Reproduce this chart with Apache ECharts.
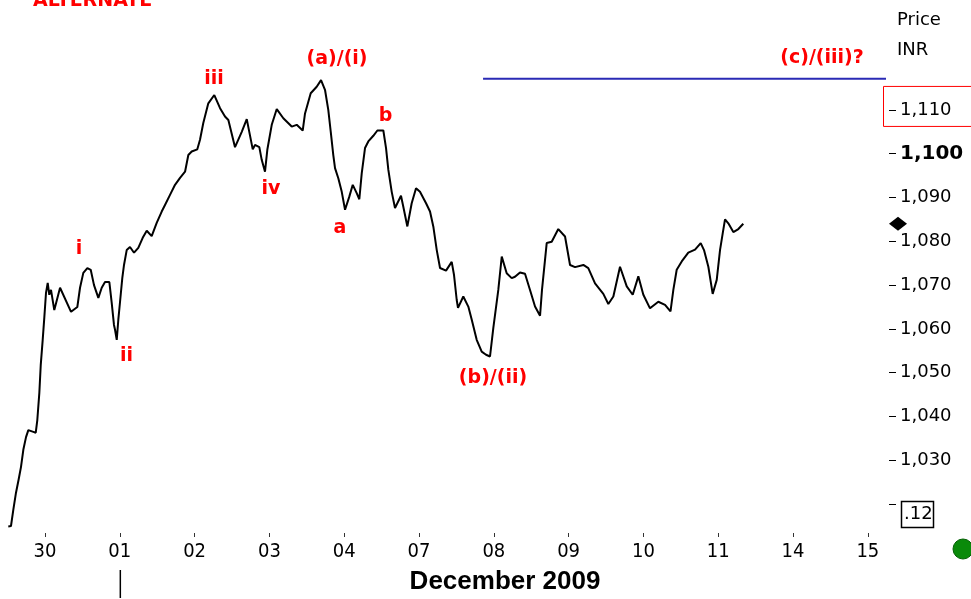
<!DOCTYPE html>
<html>
<head>
<meta charset="utf-8">
<script src="https://cdn.jsdelivr.net/npm/echarts@6/dist/echarts.min.js"></script>
<style>
html,body{margin:0;padding:0;background:#fff;}
#chart{width:971px;height:599px;}
</style>
</head>
<body>
<div id="chart"></div>
<script>
// Day tick labels (trading days, index 0..11)
const tickLabels = ['30','01','02','03','04','07','08','09','10','11','14','15'];
const monthTitle = 'December 2009';

// Intraday price path: time in trading-day units, price in INR
const times = [
 -0.491,-0.455,-0.424,-0.388,-0.354,-0.321,-0.290,-0.254,-0.223,-0.156,-0.124,-0.103,-0.076,-0.057,-0.031,-0.009,
 0.013,0.036,0.057,0.080,0.124,0.201,0.348,0.432,0.468,0.512,0.566,0.611,0.655,0.713,0.758,0.802,0.860,0.892,0.922,0.936,0.959,0.980,
 1.003,1.033,1.056,1.092,1.136,1.190,1.247,1.306,1.360,1.426,1.493,1.560,1.604,1.671,1.738,1.805,1.872,1.916,1.961,
 2.036,2.072,2.116,2.183,2.263,2.340,2.406,2.451,2.540,2.630,2.697,2.777,2.807,2.865,2.897,2.941,2.972,
 3.031,3.098,3.186,3.298,3.365,3.445,3.476,3.552,3.632,3.690,3.743,3.787,3.820,3.854,3.877,3.921,3.967,
 4.011,4.068,4.114,4.167,4.202,4.234,4.278,4.322,4.389,4.443,4.523,4.559,4.590,4.635,4.679,4.759,4.790,4.844,4.902,4.960,
 5.013,5.094,5.147,5.191,5.237,5.281,5.361,5.437,5.468,5.504,5.521,5.592,5.659,5.705,5.771,5.838,5.896,5.949,5.993,
 6.060,6.106,6.172,6.239,6.283,6.350,6.417,6.484,6.551,6.618,6.644,6.707,6.774,6.862,6.952,
 7.019,7.086,7.197,7.263,7.353,7.464,7.531,7.598,7.687,7.777,7.857,7.932,7.999,
 8.088,8.199,8.289,8.362,8.400,8.445,8.512,8.600,8.690,8.766,8.810,8.868,8.926,8.980,
 9.024,9.060,9.091,9.135,9.202,9.269,9.335
];
const prices = [
 1014.9,1015.0,1018.7,1022.6,1025.5,1028.5,1032.4,1035.3,1036.9,1036.5,1036.3,1039.2,1045.4,1051.8,1057.5,1062.7,
 1068.2,1070.5,1067.8,1068.9,1064.3,1069.4,1063.9,1065.0,1069.4,1072.8,1073.9,1073.5,1070.0,1067.1,1069.4,1070.7,1070.7,1065.9,1060.9,1059.8,1057.5,1062.1,
 1066.2,1071.6,1074.6,1078.0,1078.7,1077.4,1078.5,1080.8,1082.4,1081.2,1084.2,1086.8,1088.3,1090.6,1092.9,1094.5,1095.9,1099.7,1100.5,
 1101.0,1103.2,1107.0,1111.5,1113.4,1110.4,1108.5,1107.7,1101.5,1105.0,1107.9,1101.0,1102.0,1101.5,1098.6,1095.9,1100.9,
 1106.6,1110.2,1108.1,1106.2,1106.6,1105.3,1109.2,1113.8,1115.3,1116.8,1114.6,1110.0,1105.0,1099.7,1096.7,1094.4,1091.3,
 1087.2,1090.2,1092.9,1091.0,1089.6,1095.5,1101.3,1102.8,1104.1,1105.3,1105.3,1101.3,1096.3,1091.3,1087.6,1090.4,1087.9,1083.4,1088.7,1092.1,
 1091.3,1088.7,1086.8,1083.4,1078.0,1073.9,1073.3,1075.3,1072.3,1066.6,1064.8,1067.4,1065.1,1062.1,1057.5,1054.8,1054.1,1053.7,1060.2,
 1068.9,1076.5,1072.7,1071.6,1071.9,1072.9,1072.6,1068.9,1065.1,1063.0,1068.9,1079.6,1079.9,1082.8,1081.1,
 1074.6,1074.1,1074.6,1073.9,1070.4,1068.0,1065.7,1067.4,1074.2,1069.7,1067.8,1072.0,1067.8,
 1064.7,1066.2,1065.5,1064.0,1068.9,1073.5,1075.4,1077.4,1078.1,1079.6,1078.0,1074.2,1068.0,1071.2,
 1078.0,1081.8,1085.0,1084.1,1082.1,1082.8,1084.0
];

// Horizontal target line (blue)
const targetLevel = 1117.1;
const targetFrom = 5.856;

// Elliott wave annotations
const waveTexts  = ['i','ii','iii','iv','(a)/(i)','a','b','(b)/(ii)','(c)/(iii)?'];
const waveDays   = [0.455,1.090,2.259,3.021,3.904,3.944,4.552,5.989,10.388];
const wavePrices = [1078.3,1053.8,1117.1,1092.0,1121.6,1083.0,1108.6,1048.8,1121.9];

// Price axis
const priceTicks  = [1020,1030,1040,1050,1060,1070,1080,1090,1100,1110];
const priceLabels = [1030,1040,1050,1060,1070,1080,1090,1100,1110];
const yMin = 1013.4, yMax = 1135.1;
const xMin = -0.535, xMax = 11.243;

const chart = echarts.init(document.getElementById('chart'));
const fmt = v => Math.round(v).toLocaleString('en-US');

const option = {
  animation: false,
  backgroundColor: '#ffffff',
  grid: { left: 5, right: 85, top: 0, bottom: 66, containLabel: false, outerBoundsMode: 'none' },
  xAxis: {
    type: 'value', min: xMin, max: xMax,
    splitLine: { show: false },
    axisLine: { show: false, onZero: false },
    axisTick: { show: true, length: 4, customValues: tickLabels.map((_, i) => i), lineStyle: { color: '#333', width: 1 } },
    axisLabel: {
      customValues: tickLabels.map((_, i) => i),
      formatter: v => tickLabels[Math.round(v)],
      margin: 9, color: '#000', fontFamily: '"DejaVu Sans Condensed","Liberation Sans",sans-serif', fontSize: 20
    }
  },
  yAxis: {
    type: 'value', position: 'right', min: yMin, max: yMax, offset: 3,
    splitLine: { show: false },
    axisLine: { show: false, onZero: false },
    axisTick: { show: true, inside: false, length: 7, customValues: priceTicks, lineStyle: { color: '#000', width: 1 } },
    axisLabel: {
      customValues: priceLabels, margin: 11,
      formatter: v => v === 1100 ? '{b|' + fmt(v) + '}' : fmt(v),
      color: '#000', fontFamily: '"DejaVu Sans",sans-serif', fontSize: 18,
      rich: { b: { fontWeight: 'bold', fontSize: 20, fontFamily: '"DejaVu Sans",sans-serif', color: '#000' } }
    }
  },
  series: [
    {
      type: 'line', name: 'Price', showSymbol: false, symbol: 'none',
      data: times.map((t, i) => [t, prices[i]]),
      lineStyle: { color: '#000', width: 2 }
    },
    {
      type: 'line', name: 'Target', showSymbol: false, symbol: 'none',
      data: [[targetFrom, targetLevel], [xMax, targetLevel]],
      lineStyle: { color: '#2a2ab5', width: 2 }
    },
    {
      type: 'scatter', name: 'Waves', symbolSize: 0,
      itemStyle: { color: 'rgba(0,0,0,0)' },
      data: waveDays.map((d, i) => ({ value: [d, wavePrices[i]], name: waveTexts[i] })),
      label: {
        show: true, position: 'inside', formatter: p => p.name,
        color: '#ff0000', textBorderWidth: 0, textBorderColor: 'transparent', opacity: 1,
        fontFamily: '"DejaVu Sans",Verdana,sans-serif', fontWeight: 'bold', fontSize: 19
      },
      emphasis: { disabled: true },
      silent: true
    }
  ]
};
chart.setOption(option);

const lastPrice = prices[prices.length - 1];
const yLast = chart.convertToPixel({ yAxisIndex: 0 }, lastPrice);
const yBox = chart.convertToPixel({ yAxisIndex: 0 }, 1110);
const yLow = chart.convertToPixel({ yAxisIndex: 0 }, 1020);
const xMonth = chart.convertToPixel({ xAxisIndex: 0 }, 1);

chart.setOption({
  graphic: [
    { type: 'text', x: 33, y: 1, style: { text: 'ALTERNATE', fill: '#ff0000', font: 'bold 19px "DejaVu Sans", sans-serif', verticalAlign: 'middle' } },
    { type: 'text', x: 505, y: 582, style: { text: monthTitle, fill: '#000', font: 'bold 26px "Liberation Sans", sans-serif', align: 'center', verticalAlign: 'middle' } },
    { type: 'text', x: 897, y: 20, style: { text: 'Price', fill: '#000', font: '18px "DejaVu Sans", sans-serif', verticalAlign: 'middle' } },
    { type: 'text', x: 897, y: 50, style: { text: 'INR', fill: '#000', font: '18px "DejaVu Sans", sans-serif', verticalAlign: 'middle' } },
    { type: 'rect', shape: { x: 883.5, y: yBox - 23.5, width: 100, height: 40 }, style: { fill: 'none', stroke: '#ff0000', lineWidth: 1 } },
    { type: 'polygon', shape: { points: [[898, yLast - 7], [907, yLast], [898, yLast + 7], [889, yLast]] }, style: { fill: '#000' } },
    { type: 'rect', shape: { x: 901.5, y: yLow - 2.5, width: 32, height: 26 }, style: { fill: '#fff', stroke: '#000', lineWidth: 1.5 } },
    { type: 'text', x: 904, y: yLow + 10.5, style: { text: '.12', fill: '#000', font: '18px "DejaVu Sans", sans-serif', verticalAlign: 'middle' } },
    { type: 'circle', shape: { cx: 963, cy: 549, r: 10 }, style: { fill: '#0a8a0a', stroke: '#066006', lineWidth: 1 } },
    { type: 'line', shape: { x1: xMonth + 0.5, y1: 570, x2: xMonth + 0.5, y2: 598 }, style: { stroke: '#000', lineWidth: 1.5 } }
  ]
});
</script>
</body>
</html>
